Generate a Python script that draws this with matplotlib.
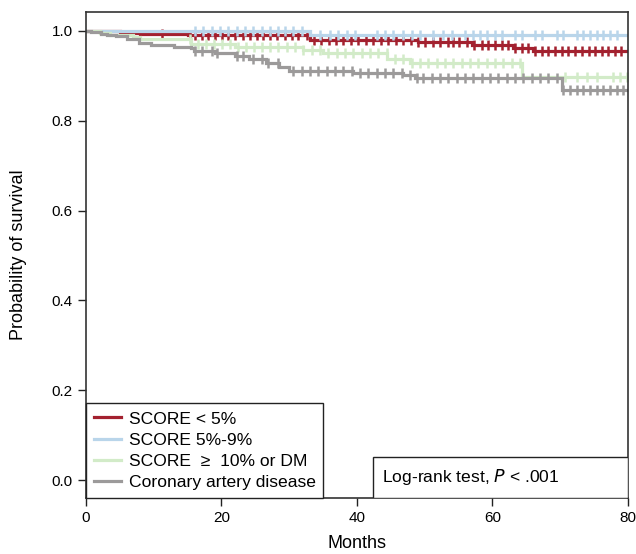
import numpy as np
import matplotlib
matplotlib.use("Agg")
import matplotlib.pyplot as plt
from matplotlib.lines import Line2D
from matplotlib.patches import Rectangle

plt.rcParams['font.family'] = ['Liberation Sans', 'DejaVu Sans']

# step curves: event times (months) and survival after each step
red_t = [0, 5, 8, 15, 33, 49, 57, 63, 66]
red_s = [1.0, 0.996, 0.993, 0.990, 0.979, 0.975, 0.969, 0.962, 0.955]
blue_t = [0, 33]
blue_s = [1.0, 0.990]
green_t = [0, 2, 3.5, 7, 8, 15.5, 22, 32, 35, 44.5, 47.8, 64.4]
green_s = [1.0, 0.995, 0.991, 0.987, 0.982, 0.970, 0.965, 0.957, 0.950, 0.937, 0.929, 0.897]
gray_t = [0, 0.8, 2.2, 3.1, 4.5, 6, 7.8, 9.6, 13, 15.5, 16, 19, 22, 24, 26.5, 28.5, 30, 39.4, 46.8, 48.5, 70.3]
gray_s = [1.0, 0.998, 0.994, 0.990, 0.988, 0.982, 0.973, 0.969, 0.965, 0.962, 0.956, 0.950, 0.944,
          0.937, 0.929, 0.920, 0.911, 0.907, 0.902, 0.896, 0.869]

# censored observations (months)
red_c = [11.2, 15.4, 16.1, 17.1, 18.0, 19.0, 20.1, 21.0, 22.0, 23.2, 24.2, 25.2, 26.1, 27.2, 28.2,
         29.4, 30.4, 31.3, 32.6, 33.6, 34.7, 35.8, 36.9, 38.0, 39.1, 40.2, 41.3, 42.4, 43.5, 44.6,
         45.7, 46.8, 47.9, 49.0, 50.1, 51.2, 52.3, 53.4, 54.1, 55.1, 56.3, 57.3, 58.4, 59.3, 60.4,
         61.4, 62.3, 63.3, 64.4, 65.3, 66.3, 67.3, 68.2, 69.2, 70.2, 71.2, 72.2, 73.2, 74.2, 75.2,
         76.1, 77.1, 78.1, 79.0]
blue_c = [16.1, 17.3, 18.6, 19.8, 21.0, 22.3, 23.5, 24.7, 26.0, 27.2, 28.3, 29.4, 30.6, 31.9,
          34.5, 36.0, 37.2, 38.5, 39.7, 43.0, 44.1, 45.3, 46.8, 48.1, 49.3, 51.2, 52.7, 54.0,
          55.9, 57.1, 58.2, 59.2, 60.4, 61.4, 63.3, 64.4, 66.3, 67.3, 69.5, 70.4, 72.5, 73.4,
          74.4, 75.4, 76.3, 77.3, 78.4]
green_c = [15.4, 16.5, 17.7, 18.9, 20.1, 21.3, 22.4, 23.6, 24.8, 26.0, 27.2, 28.3, 29.7, 30.8,
           32.0, 33.4, 34.5, 35.7, 37.0, 38.2, 39.4, 40.7, 41.9, 43.1, 44.4, 45.6, 46.8, 48.1,
           49.3, 50.5, 51.8, 53.0, 54.2, 55.5, 56.7, 57.9, 59.2, 60.4, 61.5, 62.9, 64.1,
           70.7, 72.5, 73.9, 75.4, 77.8, 78.8, 79.8]
gray_c = [16.1, 17.1, 18.6, 19.3, 22.3, 23.2, 24.7, 26.0, 26.9, 28.3, 30.5, 31.9, 33.1, 34.2,
          35.6, 36.7, 37.9, 39.3, 40.4, 41.6, 42.9, 44.1, 45.3, 46.6, 47.8, 48.9, 49.7, 51.1,
          52.2, 53.4, 54.8, 55.9, 57.1, 58.5, 59.6, 60.8, 62.1, 63.3, 64.5, 65.8, 67.0, 68.2,
          69.5, 70.4, 71.4, 72.5, 73.4, 74.4, 75.4, 76.3, 77.3, 78.4, 79.3]

labels = ['SCORE < 5%', 'SCORE 5%-9%', 'SCORE  \u2265  10% or DM', 'Coronary artery disease']
colors = ['#A3212F', '#B9D5EA', '#D2EBC8', '#9C9A9A']

fig = plt.figure(figsize=(6.36, 5.54), dpi=100)
ax = fig.add_axes([0.1352, 0.1011, 0.8522, 0.8772])

groups = [(red_t, red_s, red_c), (blue_t, blue_s, blue_c),
          (green_t, green_s, green_c), (gray_t, gray_s, gray_c)]
for (t, s, c), col in zip(groups, colors):
    tt = np.array(t + [80])
    ss = np.array(s + [s[-1]])
    ax.step(tt, ss, where='post', color=col, lw=2.3, solid_joinstyle='miter')
    c = np.array(c)
    idx = np.searchsorted(tt, c, side='right') - 1
    ax.plot(c, ss[idx], ls='none', marker='|', ms=6.5, mew=1.8, color=col)

ax.set_xlim(0, 80)
ax.set_ylim(-0.04, 1.042)
ax.set_xticks([0, 20, 40, 60, 80])
ax.set_yticks([0.0, 0.2, 0.4, 0.6, 0.8, 1.0])
ax.set_yticklabels(['0.0', '0.2', '0.4', '0.6', '0.8', '1.0'])
ax.tick_params(direction='out', length=6, width=1, labelsize=11, color='#222222')
for sp in ax.spines.values():
    sp.set_color('#333333')
    sp.set_linewidth(1.2)
ax.set_xlabel('Months', fontsize=13, labelpad=7)
ax.set_ylabel('Probability of survival', fontsize=13, labelpad=18)

handles = [Line2D([0], [0], color=col, lw=2.3) for col in colors]
leg = ax.legend(handles, labels, loc='lower left', bbox_to_anchor=(0, 0, 237 / 542, 0.2),
                mode='expand', fontsize=12.6,
                frameon=True, fancybox=False, edgecolor='#222222', framealpha=1,
                handlelength=1.55, handletextpad=0.45, labelspacing=0.34, borderpad=0.45,
                borderaxespad=0)
leg.get_frame().set_linewidth(1.0)

box_x0 = (373 - 86) / 542
box_h = 41 / 486
ax.add_patch(Rectangle((box_x0, 0), 1 - box_x0, box_h, transform=ax.transAxes,
                       fc='white', ec='#222222', lw=1.0, zorder=5))
ax.text(box_x0 + 9 / 542, box_h / 2, 'Log-rank test, $\\it{P}$ < .001', transform=ax.transAxes,
        fontsize=12.6, ha='left', va='center', zorder=6)

fig.savefig('out.png', dpi=100)
